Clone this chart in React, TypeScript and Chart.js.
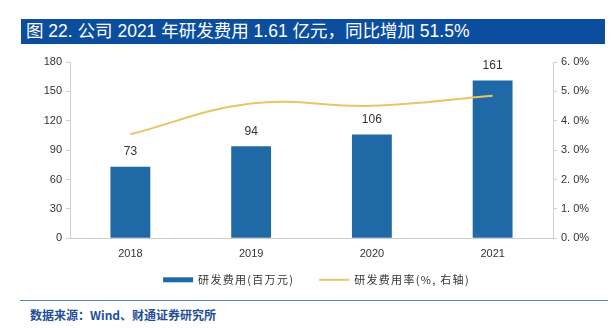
import React, { useEffect, useRef } from "react";
import { Chart, registerables } from "chart.js";

Chart.register(...registerables);

const categories = ["2018", "2019", "2020", "2021"];
const rdExpense = [73, 94, 106, 161];
const rdRate = [3.54, 4.59, 4.51, 4.85];
const seriesNames = ["研发费用(百万元)", "研发费用率(%, 右轴)"];
const titleText = "图 22. 公司 2021 年研发费用 1.61 亿元，同比增加 51.5%";
const sourceText = "数据来源：Wind、财通证券研究所";

const BAR_COLOR = "#1F69A6";
const LINE_COLOR = "#E6C567";
const AXIS_COLOR = "#D0D0D0";
const FONT = "'Liberation Sans', 'Noto Sans CJK SC', sans-serif";
const CJK = "'Noto Sans CJK SC', sans-serif";

const dataLabels = {
  id: "dataLabels",
  afterDatasetsDraw(chart: any) {
    const ctx = chart.ctx;
    const meta = chart.getDatasetMeta(0);
    ctx.save();
    ctx.font = "12px " + FONT;
    ctx.fillStyle = "#333";
    ctx.textAlign = "center";
    ctx.textBaseline = "middle";
    meta.data.forEach((el: any, i: number) => {
      ctx.fillText(String(rdExpense[i]), el.x, el.y - 15);
    });
    ctx.restore();
  },
};

const customLegend = {
  id: "customLegend",
  afterDraw(chart: any) {
    const ctx = chart.ctx;
    const area = chart.chartArea;
    const y = area.bottom + 41.5;
    const boxW = 30;
    const gapBoxText = 5;
    const gapItems = 25;
    ctx.save();
    ctx.font = "11px " + CJK;
    (ctx as any).letterSpacing = "1.3px";
    const w0 = ctx.measureText(seriesNames[0]).width;
    const w1 = ctx.measureText(seriesNames[1]).width;
    const total = boxW + gapBoxText + w0 + gapItems + boxW + gapBoxText + w1;
    let x = (area.left + area.right) / 2 - total / 2 + 5;
    ctx.fillStyle = BAR_COLOR;
    ctx.fillRect(x, y - 2.5, boxW, 5);
    x += boxW + gapBoxText;
    ctx.fillStyle = "#333";
    ctx.textBaseline = "middle";
    ctx.textAlign = "left";
    ctx.fillText(seriesNames[0], x, y);
    x += w0 + gapItems;
    ctx.strokeStyle = LINE_COLOR;
    ctx.lineWidth = 2;
    ctx.beginPath();
    ctx.moveTo(x, y);
    ctx.lineTo(x + boxW, y);
    ctx.stroke();
    x += boxW + gapBoxText;
    ctx.fillText(seriesNames[1], x, y);
    ctx.restore();
  },
};

export default function App() {
  const ref = useRef<HTMLCanvasElement>(null);
  useEffect(() => {
    document.body.style.margin = "0";
    const chart = new Chart(ref.current!, {
      type: "bar",
      data: {
        labels: categories,
        datasets: [
          {
            type: "bar",
            label: seriesNames[0],
            data: rdExpense,
            backgroundColor: BAR_COLOR,
            yAxisID: "y",
            categoryPercentage: 1,
            barPercentage: 0.33,
            order: 2,
          },
          {
            type: "line",
            label: seriesNames[1],
            data: rdRate,
            borderColor: LINE_COLOR,
            backgroundColor: LINE_COLOR,
            borderWidth: 2,
            pointRadius: 0,
            tension: 0.4,
            yAxisID: "y1",
            order: 1,
          },
        ],
      },
      options: {
        responsive: false,
        animation: false,
        layout: { padding: { top: 12, left: 0, right: 0, bottom: 38.5 } },
        plugins: {
          tooltip: { enabled: false },
          legend: { display: false },
        },
        scales: {
          x: {
            grid: { display: false },
            border: { display: true, color: AXIS_COLOR, width: 1 },
            ticks: { color: "#333", font: { family: FONT, size: 11 }, padding: 1 },
          },
          y: {
            position: "left",
            min: 0,
            max: 180,
            ticks: { stepSize: 30, color: "#333", font: { family: FONT, size: 11 }, padding: 4 },
            grid: { drawOnChartArea: false, tickLength: 4, color: AXIS_COLOR },
            border: { color: AXIS_COLOR },
            afterFit: (s: any) => {
              s.width = 50;
            },
          },
          y1: {
            position: "right",
            min: 0,
            max: 6,
            ticks: {
              stepSize: 1,
              color: "#333",
              font: { family: FONT, size: 11 },
              padding: 4,
              callback: (v: any) => Number(v).toFixed(1).replace(".", ". ") + "%",
            },
            grid: { drawOnChartArea: false, tickLength: 4, color: AXIS_COLOR },
            border: { color: AXIS_COLOR },
            afterFit: (s: any) => {
              s.width = 47;
            },
          },
        },
      },
      plugins: [dataLabels, customLegend],
    } as any);
    return () => chart.destroy();
  }, []);

  return (
    <div style={{ position: "relative", width: 613, height: 328, background: "#fff", overflow: "hidden" }}>
      <div
        style={{
          position: "absolute",
          left: 21,
          top: 19,
          width: 584,
          height: 25,
          background: "#0B4E9E",
          color: "#fff",
          fontFamily: FONT,
          fontSize: 17.5,
          lineHeight: "25px",
          paddingLeft: 5,
          boxSizing: "border-box",
          whiteSpace: "nowrap",
        }}
      >
        {titleText}
      </div>
      <canvas ref={ref} width={580} height={250} style={{ position: "absolute", left: 20, top: 50 }} />
      <div
        style={{
          position: "absolute",
          left: 20,
          top: 300,
          width: 588,
          height: 0,
          borderTop: "1.5px solid #4F86C6",
        }}
      />
      <div
        style={{
          position: "absolute",
          left: 30,
          top: 306,
          fontFamily: CJK,
          fontWeight: 700,
          fontSize: 12,
          color: "#1F4E9A",
          lineHeight: "18px",
          whiteSpace: "nowrap",
        }}
      >
        {sourceText}
      </div>
    </div>
  );
}
